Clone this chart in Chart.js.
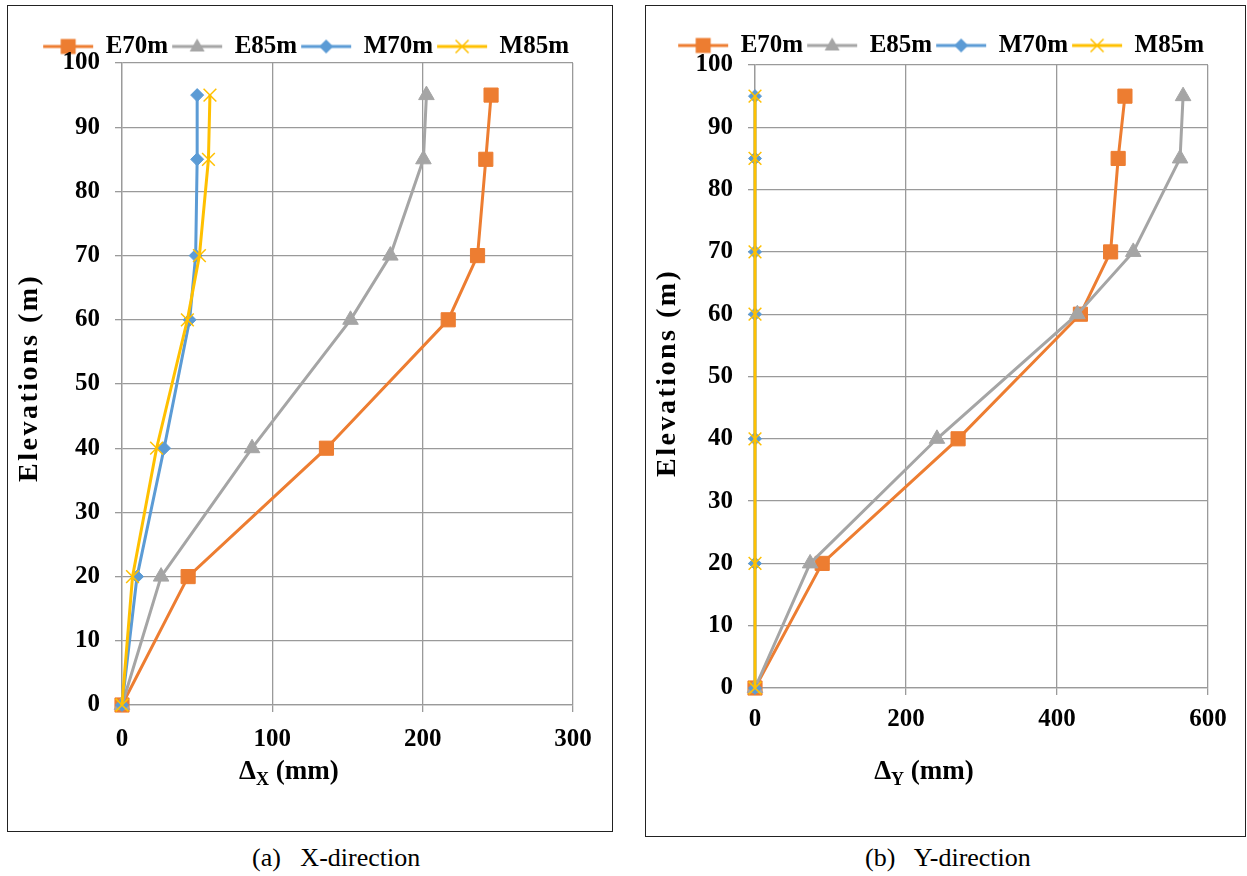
<!DOCTYPE html>
<html>
<head>
<meta charset="utf-8">
<script src="https://cdn.jsdelivr.net/npm/chart.js@4.4.1/dist/chart.umd.min.js"></script>
<style>
  html, body { margin: 0; padding: 0; background: #fff; width: 1247px; height: 876px; overflow: hidden; }
  .panel { position: absolute; border: 1px solid #222; box-sizing: border-box; background: #fff; }
  #p1 { left: 7px; top: 5px; width: 606px; height: 827px; }
  #p2 { left: 645px; top: 5px; width: 601px; height: 832px; }
  .box { position: absolute; left: 0; top: 0; width: 100%; height: 100%; }
  .cap { position: absolute; top: 843px; font-family: 'Liberation Serif', 'Times New Roman', serif; font-size: 26px; line-height: 30px; white-space: pre; color: #000; }
</style>
</head>
<body>
<div class="panel" id="p1"><div class="box"><canvas id="c1"></canvas></div></div>
<div class="panel" id="p2"><div class="box"><canvas id="c2"></canvas></div></div>
<div class="cap" style="left:252px">(a)   X-direction</div>
<div class="cap" style="left:865px">(b)   Y-direction</div>
<script>
// ---------------- data ----------------
const elevations = [0, 20, 40, 60, 70, 85, 95];
const seriesNames = ['E70m', 'E85m', 'M70m', 'M85m'];

// (a) X-direction displacements (mm)
const xE70m = [0, 44, 136, 217, 236.5, 242, 245.5];
const xE85m = [0, 26, 86.5, 152, 178.5, 200.5, 202.5];
const xM70m = [0, 10, 28, 45, 49, 50, 50];
const xM85m = [0, 7, 23, 43.5, 51.5, 57.5, 58.5];

// (b) Y-direction displacements (mm)
const yE70m = [0, 89, 269, 431, 471, 481, 490];
const yE85m = [0, 73, 241, 427, 501, 563, 567];
const yM70m = [0, 0, 0, 0, 0, 0, 0];
const yM85m = [0, 0, 0, 0, 0, 0, 0];

const xTickStepA = 100, xMaxA = 300;
const xTickStepB = 200, xMaxB = 600;
const yTickStep = 10, yMax = 100;

const yTitle = 'Elevations (m)';
const xTitleA = ['Δ', 'X', ' (mm)'];
const xTitleB = ['Δ', 'Y', ' (mm)'];

// ---------------- styles ----------------
const COLORS = { E70m: '#ED7D31', E85m: '#A5A5A5', M70m: '#5B9BD5', M85m: '#FFC000' };
const MARKERS = {
  E70m: { style: 'rect', r: 10, bw: 1 },
  E85m: { style: 'triangle', r: 9, bw: 1 },
  M70m: { style: 'rectRot', r: 6.5, bw: 1 },
  M85m: { style: 'crossRot', r: 9, bw: 1.5 }
};
const FONT = "'Liberation Serif', 'Times New Roman', serif";
const GRID = '#9a9a9a';

function legendIcon(name) {
  const c = document.createElement('canvas');
  c.width = 54; c.height = 22;
  const g = c.getContext('2d');
  const col = COLORS[name];
  g.strokeStyle = col; g.fillStyle = col; g.lineWidth = 3;
  g.beginPath(); g.moveTo(2, 11); g.lineTo(52, 11); g.stroke();
  const cx = 27, cy = 11;
  const st = MARKERS[name].style;
  g.beginPath();
  if (st === 'rect') {
    g.rect(cx - 7.5, cy - 7.5, 15, 15); g.fill();
  } else if (st === 'triangle') {
    g.moveTo(cx, cy - 8); g.lineTo(cx + 7.5, cy + 5); g.lineTo(cx - 7.5, cy + 5); g.closePath(); g.fill();
  } else if (st === 'rectRot') {
    g.moveTo(cx - 7, cy); g.lineTo(cx, cy - 7); g.lineTo(cx + 7, cy); g.lineTo(cx, cy + 7); g.closePath(); g.fill();
  } else {
    g.lineWidth = 1.5;
    g.moveTo(cx - 6.5, cy - 6.5); g.lineTo(cx + 6.5, cy + 6.5);
    g.moveTo(cx + 6.5, cy - 6.5); g.lineTo(cx - 6.5, cy + 6.5); g.stroke();
  }
  return c;
}

const axisTitlePlugin = {
  id: 'axisTitles',
  afterDraw(chart, args, o) {
    const { ctx, chartArea: a } = chart;
    ctx.save();
    ctx.fillStyle = '#000';
    const big = 'bold 27px ' + FONT, small = 'bold 18px ' + FONT;
    ctx.textAlign = 'left';
    ctx.textBaseline = 'alphabetic';
    ctx.font = big;
    const w1 = ctx.measureText(o.parts[0]).width, w3 = ctx.measureText(o.parts[2]).width;
    ctx.font = small;
    const w2 = ctx.measureText(o.parts[1]).width;
    let x = a.left + o.xFrac * (a.right - a.left) - (w1 + w2 + w3) / 2;
    const y = o.xBaseline;
    ctx.font = big; ctx.fillText(o.parts[0], x, y); x += w1;
    ctx.font = small; ctx.fillText(o.parts[1], x, y + 6); x += w2;
    ctx.font = big; ctx.fillText(o.parts[2], x, y);
    ctx.translate(o.yX, o.yStart);
    ctx.rotate(-Math.PI / 2);
    ctx.textBaseline = 'middle';
    ctx.font = 'bold 28px ' + FONT;
    if ('letterSpacing' in ctx) ctx.letterSpacing = '2.5px';
    ctx.fillText(yTitle, 0, 0);
    ctx.restore();
  }
};

function makeChart(id, xs, cfg) {
  const datasets = seriesNames.map((name, i) => ({
    label: name,
    data: elevations.map((e, j) => ({ x: xs[i][j], y: e })),
    borderColor: COLORS[name],
    backgroundColor: COLORS[name],
    borderWidth: 3,
    pointStyle: MARKERS[name].style,
    pointRadius: MARKERS[name].r,
    pointHoverRadius: MARKERS[name].r,
    pointBorderWidth: MARKERS[name].bw,
    pointBorderColor: COLORS[name],
    pointBackgroundColor: COLORS[name],
    order: seriesNames.length - i,
    clip: false,
    tension: 0,
    fill: false
  }));
  const tickFont = { family: FONT, size: 25, weight: 'bold' };
  return new Chart(document.getElementById(id), {
    type: 'line',
    data: { datasets },
    plugins: [axisTitlePlugin],
    options: {
      responsive: true,
      maintainAspectRatio: false,
      animation: false,
      events: [],
      layout: { padding: { top: cfg.padTop, right: cfg.padRight, bottom: 0, left: 0 } },
      scales: {
        x: {
          type: 'linear', min: 0, max: cfg.xMax,
          ticks: { stepSize: cfg.xStep, color: '#000', font: tickFont, padding: cfg.xTickPad, maxRotation: 0 },
          grid: { color: GRID, lineWidth: 1.3, tickLength: 7, drawTicks: true },
          border: { color: GRID, width: 1.3 },
          afterFit: s => { s.height = cfg.xAxisH; }
        },
        y: {
          type: 'linear', min: 0, max: yMax,
          ticks: { stepSize: yTickStep, color: '#000', font: tickFont, padding: 15 },
          grid: { color: GRID, lineWidth: 1.3, tickLength: 7, drawTicks: true },
          border: { color: GRID, width: 1.3 },
          afterFit: s => { s.width = cfg.yAxisW; }
        }
      },
      plugins: {
        tooltip: { enabled: false },
        legend: {
          display: true,
          position: 'top',
          align: 'end',
          maxHeight: cfg.legendH,
          labels: {
            usePointStyle: true,
            pointStyleWidth: 50,
            padding: 4,
            color: '#000',
            font: { family: FONT, size: 25, weight: 'bold' },
            generateLabels: (chart) => seriesNames.map((name, i) => ({
              text: name,
              pointStyle: legendIcon(name),
              fillStyle: COLORS[name],
              strokeStyle: COLORS[name],
              lineWidth: 0,
              hidden: false,
              datasetIndex: i,
              fontColor: '#000'
            }))
          }
        },
        axisTitles: cfg.titles
      }
    }
  });
}

makeChart('c1', [xE70m, xE85m, xM70m, xM85m], {
  xMax: xMaxA, xStep: xTickStepA, padTop: 24, padRight: 39, legendH: 33,
  xAxisH: 126, yAxisW: 114, xTickPad: 13,
  titles: { parts: xTitleA, xFrac: 0.37, xBaseline: 773, yX: 22, yStart: 476 }
});
makeChart('c2', [yE70m, yE85m, yM70m, yM85m], {
  xMax: xMaxB, xStep: xTickStepB, padTop: 23, padRight: 37, legendH: 36,
  xAxisH: 148, yAxisW: 109, xTickPad: 10,
  titles: { parts: xTitleB, xFrac: 0.373, xBaseline: 773, yX: 22, yStart: 471 }
});
</script>
</body>
</html>
